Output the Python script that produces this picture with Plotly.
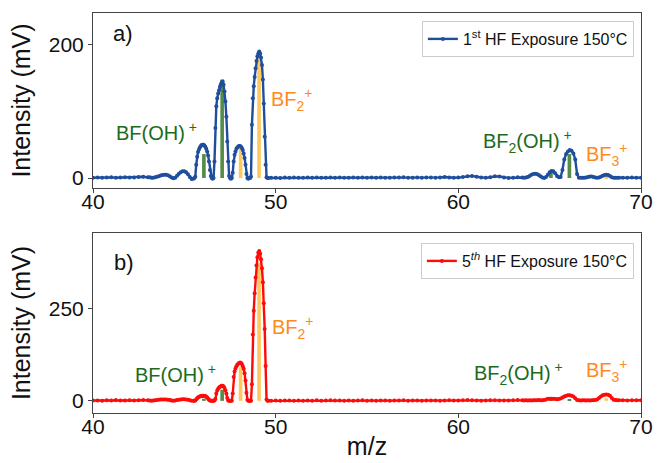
import plotly.graph_objects as go

def grid(a, b, step):
    n = int(round((b - a) / step)) + 1
    return [round(a + i * step, 3) for i in range(n)]

# m/z sampling grid
mz = (grid(40.0, 43.0, 0.25) + grid(43.1, 45.5, 0.1) + grid(45.55, 49.6, 0.05)
      + grid(49.75, 63.5, 0.25) + grid(63.6, 68.8, 0.1) + grid(69.0, 70.0, 0.25))

# ---- 1st exposure (mV) ----
first_a = [0.5, 0.8, 0.3, 0.6, 1.0, 0.4, 0.7, 1.2, 0.6, 0.9, 1.5, 2.0, 1.0]
first_b = [1.0, 0.5, 0.5, 1.0, 1.8, 2.8, 3.8, 4.6, 5.0, 5.0,
           4.3, 2.8, 0.8, -0.5, 0.5, 3.5, 6.5, 8.8, 10.0, 10.0,
           8.5, 5.5, 1.5, -1.5, -1.0]
first_c = [0, 2, 20, 32, 39, 43, 46, 48, 49.5, 50,
           50, 49, 47, 44, 40, 34, 25, 12, 3, 0,
           -1, 0, 25, 75, 108, 120, 127, 132, 137, 141,
           144, 145, 140, 130, 115, 92, 55, 25, 3, 0,
           -1, 0, 8, 25, 35, 40, 44, 46, 47.5, 48,
           48, 47, 45, 42, 37, 30, 20, 6, 0, -1,
           0, 0, 2, 80, 120, 138, 152, 165, 176, 183,
           187, 190, 187, 181, 170, 148, 112, 62, 20, 1,
           0, 0]
first_d = [0.3, 0.5, 0.2, 0.6, 0.4, 0.8, 0.5, 0.3,
           0.6, 0.4, 0.7, 0.3, 0.5, 0.8, 0.4, 0.6,
           0.5, 0.3, 0.7, 0.5, 0.9, 0.4, 0.6, 0.5,
           0.8, 0.5, 0.4, 0.7, 0.6, 1.0, 0.5, 0.4,
           0.7, 0.5, 0.8, 0.6, 0.4, 0.9, 1.5, 0.8,
           0.3, 0.6, 1.5, 2.8, 3.2, 2.0, 0.8, 0.3,
           1.2, 2.5, 2.2, 0.8, 0.2, 0.5, 1.0, 0.8]
first_e = [0.5, 0.8, 1.5, 3.0, 4.8, 6.0, 6.5, 6.0, 4.5, 2.5,
           0.8, 0.2, 1.5, 5.0, 8.5, 10.5, 10.0, 7.0, 3.0, 1.0,
           1.5, 12, 28, 36, 40, 42, 41, 37, 28, 6,
           0.5, 0.3, 0.4, 0.5, 0.8, 1.5, 2.2, 2.3, 1.5, 0.6,
           0.3, 0.8, 2.0, 3.5, 4.5, 5.0, 4.5, 3.0, 1.2, 0.4,
           0.3, 0.5, 0.4]
first_f = [0.5, 0.3, 0.6, 0.4, 0.5]
first = first_a + first_b + first_c + first_d + first_e + first_f

# ---- 5th exposure (mV) ----
fifth_a = [0.8, 1.2, 0.5, 1.5, 1.0, 2.0, 1.2, 0.8, 1.8, 1.0, 1.5, 2.5, 1.5]
fifth_b = [1.0, 0.5, 1.0, 1.8, 2.5, 3.0, 3.5, 4.0, 4.0, 3.5,
           3.0, 2.0, 1.0, 0.5, 1.0, 2.0, 3.0, 4.0, 4.5, 4.5,
           4.0, 3.0, 1.5, 0.5, 0.5]
fifth_c = [0.5, 1, 4, 7, 9, 11, 12, 13, 13.5, 14,
           14, 13.5, 13, 11, 9, 6, 3, 1, 0, 0,
           0, 0, 1, 5, 20, 28, 33, 36, 38.5, 40,
           41, 41, 39, 35, 29, 20, 8, 1, 0, 0,
           0, 0, 20, 65, 80, 88, 94, 98, 101, 103,
           104, 103, 100, 94, 87, 75, 55, 22, 3, 0,
           0, 0, 0, 45, 180, 245, 292, 335, 368, 390,
           403, 407, 400, 385, 360, 322, 265, 195, 95, 4,
           0, 0]
fifth_d = [0.5, 1.0, 0.3, 0.8, 1.2, 0.5, 0.9, 0.4,
           1.0, 0.6, 1.3, 0.5, 0.8, 1.5, 0.7, 1.0,
           0.6, 1.1, 0.4, 0.9, 1.4, 0.6, 1.0, 0.5,
           1.2, 0.7, 0.4, 1.0, 0.8, 1.3, 0.6, 0.9,
           1.1, 0.5, 1.0, 0.7, 1.2, 0.6, 0.9, 1.4,
           0.8, 1.0, 1.6, 2.0, 1.4, 0.9, 0.6, 1.0,
           1.3, 1.8, 1.2, 0.7, 1.0, 1.5, 2.0, 1.6]
fifth_e = [1.0, 1.3, 1.0, 1.5, 1.2, 1.6, 1.3, 1.8, 2.0, 1.5,
           1.5, 2.5, 4.0, 5.5, 6.0, 6.0, 5.5, 5.0, 4.5, 5.0,
           6.5, 9, 12, 14, 15, 15, 14, 12, 7, 2.5,
           1.5, 1.2, 1.5, 1.3, 1.0, 1.4, 1.2, 1.5, 1.8, 2.5,
           4.0, 8, 12, 15, 16.5, 17, 16.5, 14, 8, 3,
           2.0, 1.5, 1.5]
fifth_f = [1.5, 1.2, 1.5, 1.3, 1.5]
fifth = fifth_a + fifth_b + fifth_c + fifth_d + fifth_e + fifth_f

# ---- reference bars ----
green_x = [46.07, 47.07, 65.07, 66.08]
yellow_x = [48.08, 49.09, 68.1]
green_top = [36, 148, 8, 36]
yellow_top = [45, 180, 2.5]
green_bot = [6, 30, 2, 5]
yellow_bot = [91, 375, 7]

BLUE = "#1f4f9c"
RED = "#ff0a0a"
GBAR = "#568c49"
YBAR = "#ffc85e"
GTXT = "#1b6b1b"
OTXT = "#ff8a1c"
FONT = "Liberation Sans, Arial, sans-serif"

fig = go.Figure()

fig.add_trace(go.Scatter(x=mz, y=first, mode="lines+markers",
                         line=dict(color=BLUE, width=2.4), marker=dict(color=BLUE, size=4),
                         name="1<sup>st</sup> HF Exposure 150°C", legend="legend",
                         xaxis="x", yaxis="y"))
fig.add_trace(go.Bar(x=green_x, y=green_top, width=0.2, marker=dict(color=GBAR, line_width=0),
                     showlegend=False, xaxis="x", yaxis="y"))
fig.add_trace(go.Bar(x=yellow_x, y=yellow_top, width=0.2, marker=dict(color=YBAR, line_width=0),
                     showlegend=False, xaxis="x", yaxis="y"))

fig.add_trace(go.Scatter(x=mz, y=fifth, mode="lines+markers",
                         line=dict(color=RED, width=2.4), marker=dict(color=RED, size=4),
                         name="5<sup><i>th</i></sup> HF Exposure 150°C", legend="legend2",
                         xaxis="x2", yaxis="y2"))
fig.add_trace(go.Bar(x=green_x, y=green_bot, width=0.2, marker=dict(color=GBAR, line_width=0),
                     showlegend=False, xaxis="x2", yaxis="y2"))
fig.add_trace(go.Bar(x=yellow_x, y=yellow_bot, width=0.2, marker=dict(color=YBAR, line_width=0),
                     showlegend=False, xaxis="x2", yaxis="y2"))

axis_common = dict(showline=True, linecolor="#444", linewidth=1, mirror=True,
                   ticks="outside", ticklen=4, tickcolor="#444", showgrid=False,
                   zeroline=False, automargin=False,
                   tickfont=dict(size=21, color="#111", family=FONT))
TFONT = dict(size=25, family=FONT, color="#111")

fig.update_layout(
    width=657, height=463,
    margin=dict(l=93, r=16, t=13, b=50),
    plot_bgcolor="white", paper_bgcolor="white",
    barmode="overlay",
    font=dict(family=FONT, color="#111"),
    xaxis=dict(domain=[0, 1], range=[40, 70], tickvals=[40, 50, 60, 70], anchor="y",
               ticklabelstandoff=-9, **axis_common),
    yaxis=dict(domain=[0.5625, 1], range=[-15, 248], tickvals=[0, 200], anchor="x",
               title=dict(text="Intensity (mV)", font=TFONT, standoff=11),
               **axis_common),
    xaxis2=dict(domain=[0, 1], range=[40, 70], tickvals=[40, 50, 60, 70], anchor="y2",
                ticklabelstandoff=-9,
                title=dict(text="m/z", font=TFONT, standoff=0),
                **axis_common),
    yaxis2=dict(domain=[0, 0.45], range=[-33, 456], tickvals=[0, 250], anchor="x2",
                title=dict(text="Intensity (mV)", font=TFONT, standoff=11),
                **axis_common),
    legend=dict(x=0.987, y=0.98, xanchor="right", yanchor="top", bgcolor="white",
                bordercolor="#cccccc", borderwidth=1, font=dict(size=16, family=FONT)),
    legend2=dict(x=0.987, y=0.425, xanchor="right", yanchor="top", bgcolor="white",
                 bordercolor="#cccccc", borderwidth=1, font=dict(size=16, family=FONT)),
)

def ann(text, x, y, xref, yref, color, size=20):
    fig.add_annotation(text=text, x=x, y=y, xref=xref, yref=yref, showarrow=False,
                       font=dict(color=color, size=size, family=FONT),
                       xanchor="center", yanchor="middle")

ann("a)", 41.63, 217, "x", "y", "#111", 22)
ann("BF(OH)<sup> +</sup>", 43.48, 70, "x", "y", GTXT)
ann("BF<sub>2</sub><sup>+</sup>", 50.92, 118, "x", "y", OTXT)
ann("BF<sub>2</sub>(OH)<sup> +</sup>", 63.78, 55, "x", "y", GTXT)
ann("BF<sub>3</sub><sup>+</sup>", 68.13, 36, "x", "y", OTXT)

ann("b)", 41.7, 376, "x2", "y2", "#111", 22)
ann("BF(OH)<sup> +</sup>", 44.49, 75, "x2", "y2", GTXT)
ann("BF<sub>2</sub><sup>+</sup>", 50.97, 198, "x2", "y2", OTXT)
ann("BF<sub>2</sub>(OH)<sup> +</sup>", 63.32, 75, "x2", "y2", GTXT)
ann("BF<sub>3</sub><sup>+</sup>", 68.16, 82, "x2", "y2", OTXT)

fig.write_html("out.html")
